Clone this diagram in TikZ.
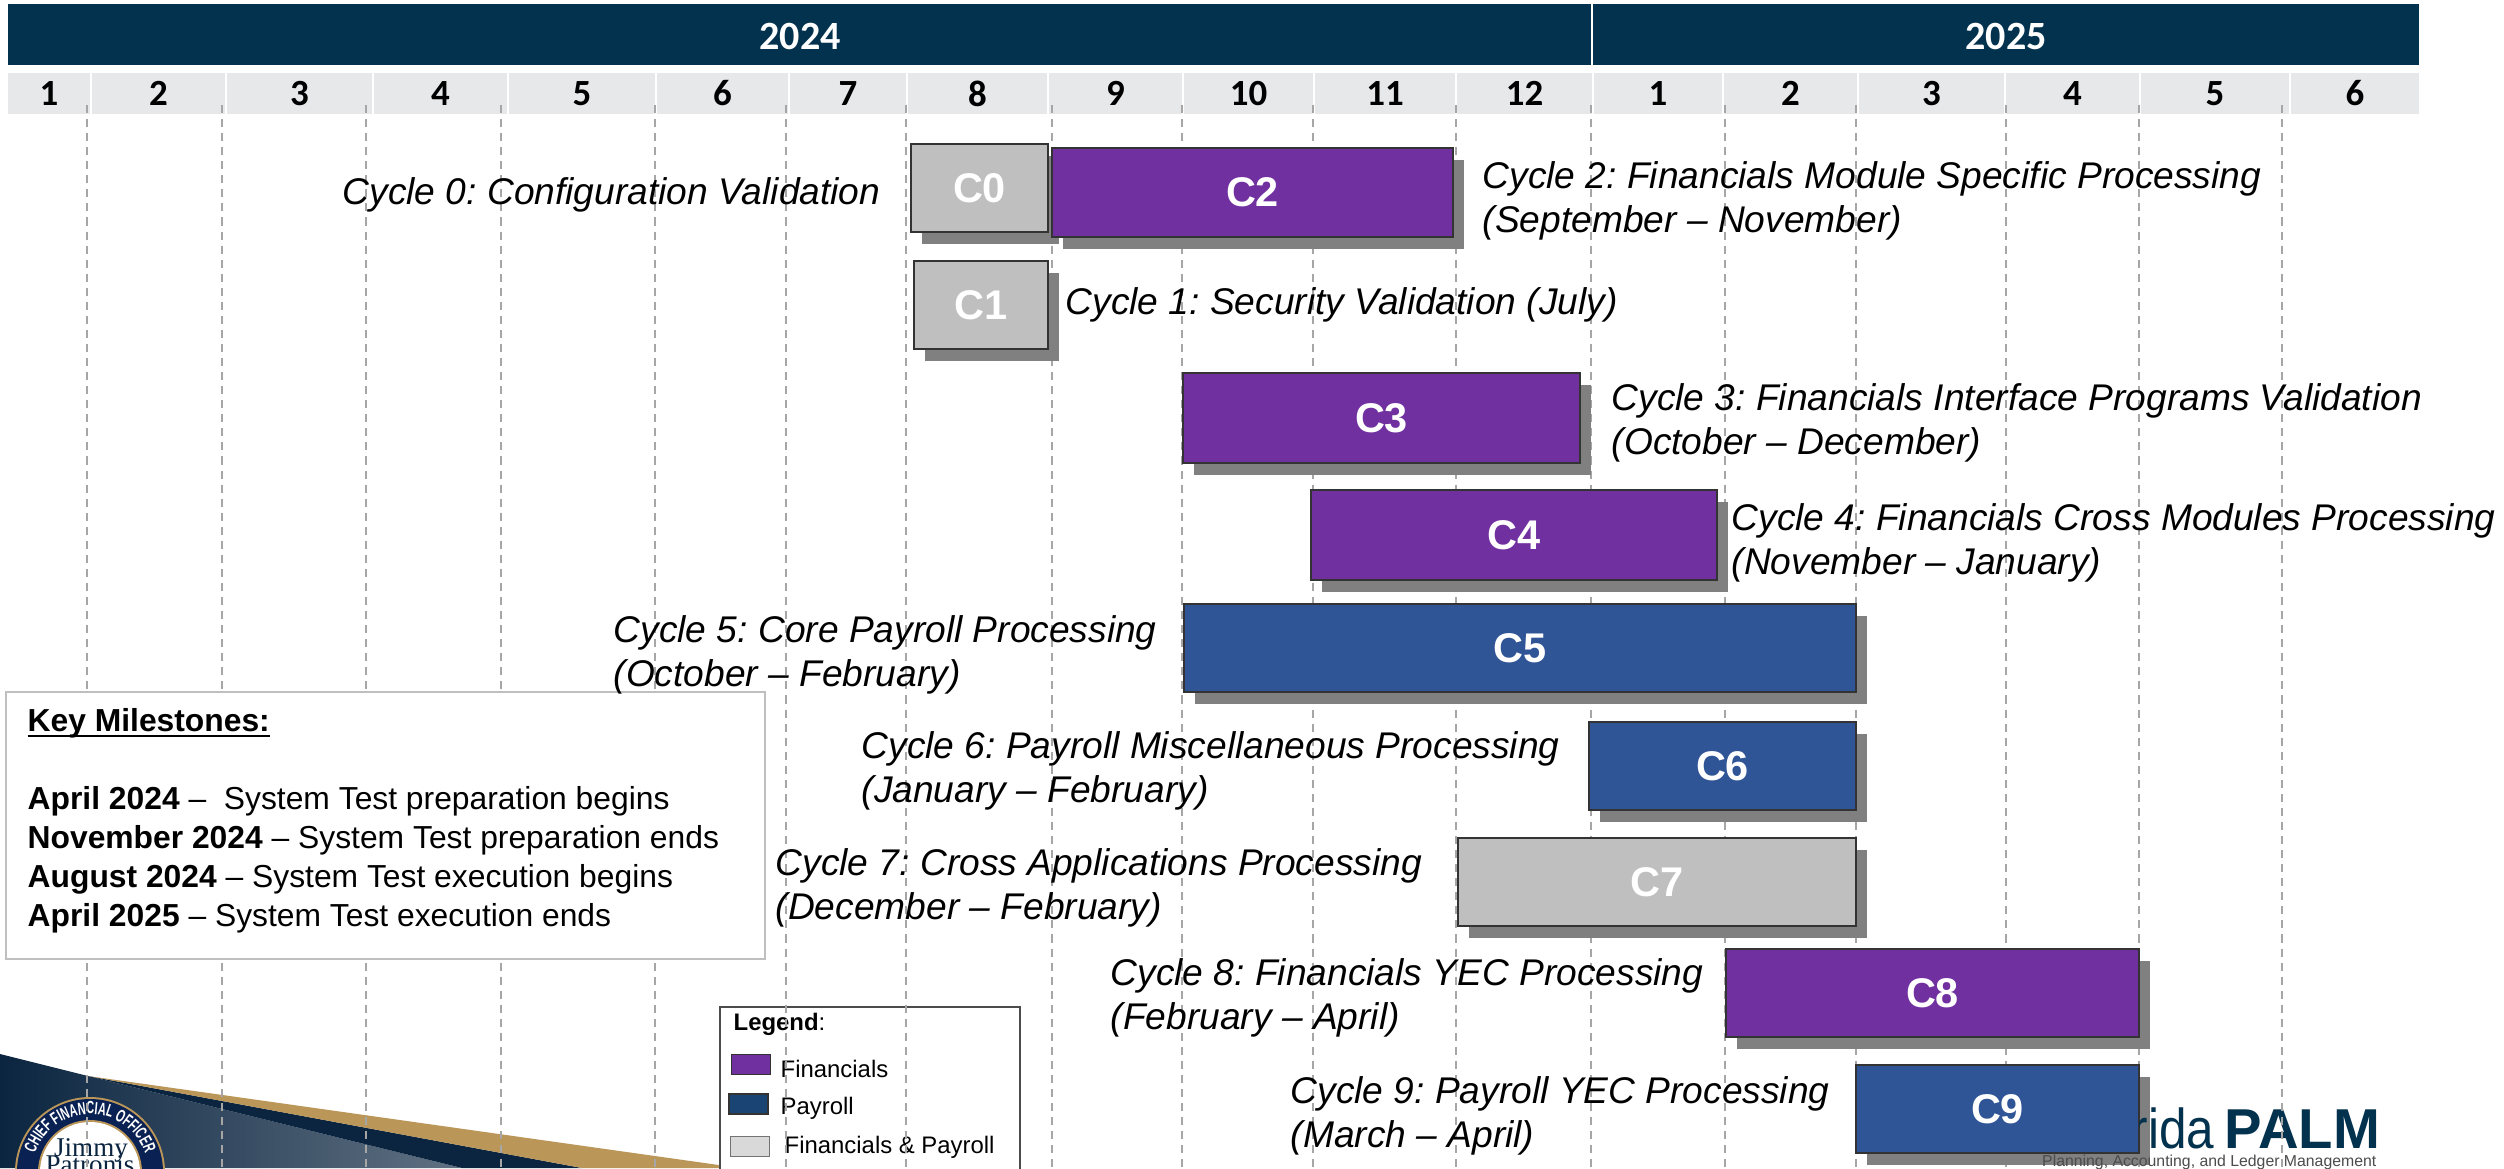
\documentclass[tikz,border=0pt]{standalone}
\usepackage{fontspec}
\setmainfont{Liberation Sans}
\newfontfamily\calfont{Carlito}
\newfontfamily\serfont{Liberation Serif}
\newfontfamily\sealfont[FakeStretch=0.62]{Liberation Sans Bold}
\newfontfamily\logofont[FakeStretch=0.88]{Liberation Sans}
\usetikzlibrary{shadows,decorations.text}
\definecolor{headnavy}{HTML}{03324F}
\definecolor{monthgray}{HTML}{E7E8EA}
\definecolor{finpurple}{HTML}{7030A0}
\definecolor{payblue}{HTML}{2F5597}
\definecolor{bothgray}{HTML}{BFBFBF}
\definecolor{shadegray}{HTML}{808080}
\definecolor{gridgray}{HTML}{A6A6A6}
\definecolor{sealnavy}{HTML}{0B2540}
\definecolor{sealgold}{HTML}{BB9659}
\tikzset{
    yearcell/.style={fill=headnavy, inner sep=0pt, minimum height=0.61cm},
    yeartext/.style={text=white, inner sep=0pt, font=\calfont\bfseries\fontsize{11.4}{13}\selectfont},
    monthcell/.style={fill=monthgray, text=black, inner sep=0pt, minimum height=0.41cm, font=\calfont\bfseries\fontsize{10.5}{12}\selectfont},
    gridline/.style={gridgray, line width=0.57pt, dash pattern=on 2.3pt off 1.7pt},
    cyclebar/.style={draw=black!80, line width=0.4pt, inner sep=0pt, text=white, font=\bfseries\fontsize{11.8}{14}\selectfont,
        drop shadow={shadow xshift=0.11cm, shadow yshift=-0.12cm, fill=shadegray, opacity=1}},
    cyclelabel/.style={anchor=west, align=left, inner sep=0pt, font=\itshape\fontsize{10.57}{12.5}\selectfont},
    legendtext/.style={anchor=west, inner sep=0pt, font=\fontsize{6.8}{8}\selectfont},
    swatch/.style={draw=black!80, line width=0.4pt, inner sep=0pt, minimum width=0.39cm, minimum height=0.2cm},
    sealtext/.style={text=sealnavy, inner sep=0pt, font=\serfont\fontsize{7.7}{9}\selectfont}
}
\frenchspacing
\newcommand{\keyunderline}[1]{\setbox0\hbox{#1}\rlap{\rule[-1.4pt]{\wd0}{0.6pt}}\box0}
\begin{document}
\begin{tikzpicture}
    \useasboundingbox (0, 0) rectangle (25.04, 11.68);
    \fill[white] (0, 0) rectangle (25.04, 11.68);

    \shade[left color=sealnavy, right color=sealnavy!65!white] (0, 1.14) -- (0.88, 0.92) -- (4.62, 0) -- (0, 0) -- cycle;
    \fill[sealnavy] (0.88, 0.92) -- (5.82, 0) -- (4.62, 0) -- cycle;
    \fill[sealgold] (0.88, 0.92) -- (7.4, 0) -- (5.82, 0) -- cycle;

    \begin{scope}
        \clip (0, 0) rectangle (3, 1);
        \fill[sealgold] (0.9, -0.04) circle (0.75);
        \fill[sealnavy!90!blue] (0.9, -0.04) circle (0.73);
        \fill[sealgold] (0.9, -0.04) circle (0.52);
        \fill[white] (0.9, -0.04) circle (0.5);
        \node[sealtext] (sealjimmy) at (0.91, 0.18) {Jimmy};
        \node[sealtext] (sealname) at (0.9, 0.03) {Patronis};
        \path[postaction={decorate}, decoration={text along path, text align=center, text color=white,
            text={|\sealfont\fontsize{5}{6}\selectfont|CHIEF FINANCIAL OFFICER}}]
            (0.34, 0.11) arc (165:15:0.58);
    \end{scope}

    \node[anchor=base west, inner sep=0pt, text=headnavy, font=\bfseries\fontsize{16}{18}\selectfont] (logopalm) at (22.24, 0.2) {PALM};

    \draw[draw=black!70, line width=0.4pt, fill=white] (7.2, 1.61) rectangle (10.2, -0.1);
    \node[legendtext, font=\bfseries\fontsize{6.8}{8}\selectfont] (legendhead) at (7.33, 1.44) {Legend\textmd{:}};
    \node[swatch, fill=finpurple] (swfin) at (7.51, 1.035) {};
    \node[swatch, fill=headnavy!50!payblue] (swpay) at (7.485, 0.64) {};
    \node[swatch, fill=black!15, draw=black!55] (swboth) at (7.5, 0.215) {};
    \node[legendtext] (legfin) at (7.8, 0.99) {Financials};
    \node[legendtext] (legpay) at (7.8, 0.6) {Payroll};
    \node[legendtext] (legboth) at (7.84, 0.21) {Financials \& Payroll};

    \node[yearcell, minimum width=15.825cm] (y2024) at (7.9925, 11.33) {};
    \node[yearcell, minimum width=8.26cm] (y2025) at (20.06, 11.33) {};
    \node[yeartext] (t2024) at (8.0, 11.31) {2024};
    \node[yeartext] (t2025) at (20.06, 11.31) {2025};

    \foreach \m/\xa/\xb [count=\i] in {1/0.08/0.90, 2/0.92/2.25, 3/2.27/3.72, 4/3.74/5.07, 5/5.09/6.55, 6/6.57/7.88, 7/7.90/9.06, 8/9.08/10.47, 9/10.49/11.82, 10/11.84/13.13, 11/13.15/14.55, 12/14.57/15.92, 1/15.94/17.22, 2/17.24/18.57, 3/18.59/20.04, 4/20.06/21.39, 5/21.41/22.89, 6/22.91/24.19}
        \node[monthcell, minimum width=\xb cm-\xa cm] (month\i) at ({(\xa+\xb)/2}, 10.745) {\m};

    \foreach \x in {0.87, 2.22, 3.66, 5.01, 6.55, 7.86, 9.06, 10.52, 11.82, 13.13, 14.56, 15.91, 17.25, 18.56, 20.06, 21.39, 22.82}
        \draw[gridline] (\x, 10.63) -- (\x, 0);

    \node[draw=black!25, line width=0.6pt, fill=white, minimum width=7.59cm, minimum height=2.67cm] (keybox) at (3.855, 3.425) {};
    \node[anchor=north west, align=left, inner sep=0pt, font=\fontsize{9.05}{11.1}\selectfont] (keytext) at (0.27, 4.6) {%
        \keyunderline{\textbf{Key Milestones:}}\\[11.1pt]
        \textbf{April 2024} --\ \ System Test preparation begins\\
        \textbf{November 2024} -- System Test preparation ends\\
        \textbf{August 2024} -- System Test execution begins\\
        \textbf{April 2025} -- System Test execution ends};

    \node[cyclebar, fill=bothgray, minimum width=1.37cm, minimum height=0.88cm] (c0) at (9.795, 9.8) {C0};
    \node[cyclebar, fill=bothgray, minimum width=1.34cm, minimum height=0.88cm] (c1) at (9.81, 8.63) {C1};
    \node[cyclebar, fill=finpurple, minimum width=4.01cm, minimum height=0.89cm] (c2) at (12.525, 9.755) {C2};
    \node[cyclebar, fill=finpurple, minimum width=3.97cm, minimum height=0.9cm] (c3) at (13.815, 7.5) {C3};
    \node[cyclebar, fill=finpurple, minimum width=4.06cm, minimum height=0.9cm] (c4) at (15.14, 6.33) {C4};
    \node[cyclebar, fill=payblue, minimum width=6.72cm, minimum height=0.88cm] (c5) at (15.2, 5.2) {C5};
    \node[cyclebar, fill=payblue, minimum width=2.67cm, minimum height=0.88cm] (c6) at (17.225, 4.02) {C6};
    \node[cyclebar, fill=bothgray, minimum width=3.98cm, minimum height=0.88cm] (c7) at (16.57, 2.86) {C7};
    \node[cyclebar, fill=finpurple, minimum width=4.13cm, minimum height=0.88cm] (c8) at (19.325, 1.75) {C8};
    \node[cyclebar, fill=payblue, minimum width=2.83cm, minimum height=0.88cm] (c9) at (19.975, 0.59) {C9};

    \begin{scope}
        \clip (21.395, 0) rectangle (22.3, 1);
        \node[anchor=base east, inner sep=0pt, text=headnavy, font=\logofont\fontsize{16}{18}\selectfont] (logoflorida) at (22.15, 0.2) {Florida};
    \end{scope}
    \node[anchor=east, inner sep=0pt, text=black!70, font=\fontsize{4.5}{5}\selectfont] (logotag) at (23.77, 0.06) {Planning, Accounting, and Ledger Management};

    \node[cyclelabel] (l0) at (3.42, 9.73) {Cycle 0: Configuration Validation};
    \node[cyclelabel] (l1) at (10.65, 8.63) {Cycle 1: Security Validation (July)};
    \node[cyclelabel] (l2) at (14.82, 9.67) {Cycle 2: Financials Module Specific Processing\\(September -- November)};
    \node[cyclelabel] (l3) at (16.11, 7.45) {Cycle 3: Financials Interface Programs Validation\\(October -- December)};
    \node[cyclelabel] (l4) at (17.31, 6.25) {Cycle 4: Financials Cross Modules Processing\\(November -- January)};
    \node[cyclelabel] (l5) at (6.13, 5.13) {Cycle 5: Core Payroll Processing\\(October -- February)};
    \node[cyclelabel] (l6) at (8.61, 3.97) {Cycle 6: Payroll Miscellaneous Processing\\(January -- February)};
    \node[cyclelabel] (l7) at (7.75, 2.8) {Cycle 7: Cross Applications Processing\\(December -- February)};
    \node[cyclelabel] (l8) at (11.1, 1.7) {Cycle 8: Financials YEC Processing\\(February -- April)};
    \node[cyclelabel] (l9) at (12.9, 0.52) {Cycle 9: Payroll YEC Processing\\(March -- April)};
\end{tikzpicture}
\end{document}
